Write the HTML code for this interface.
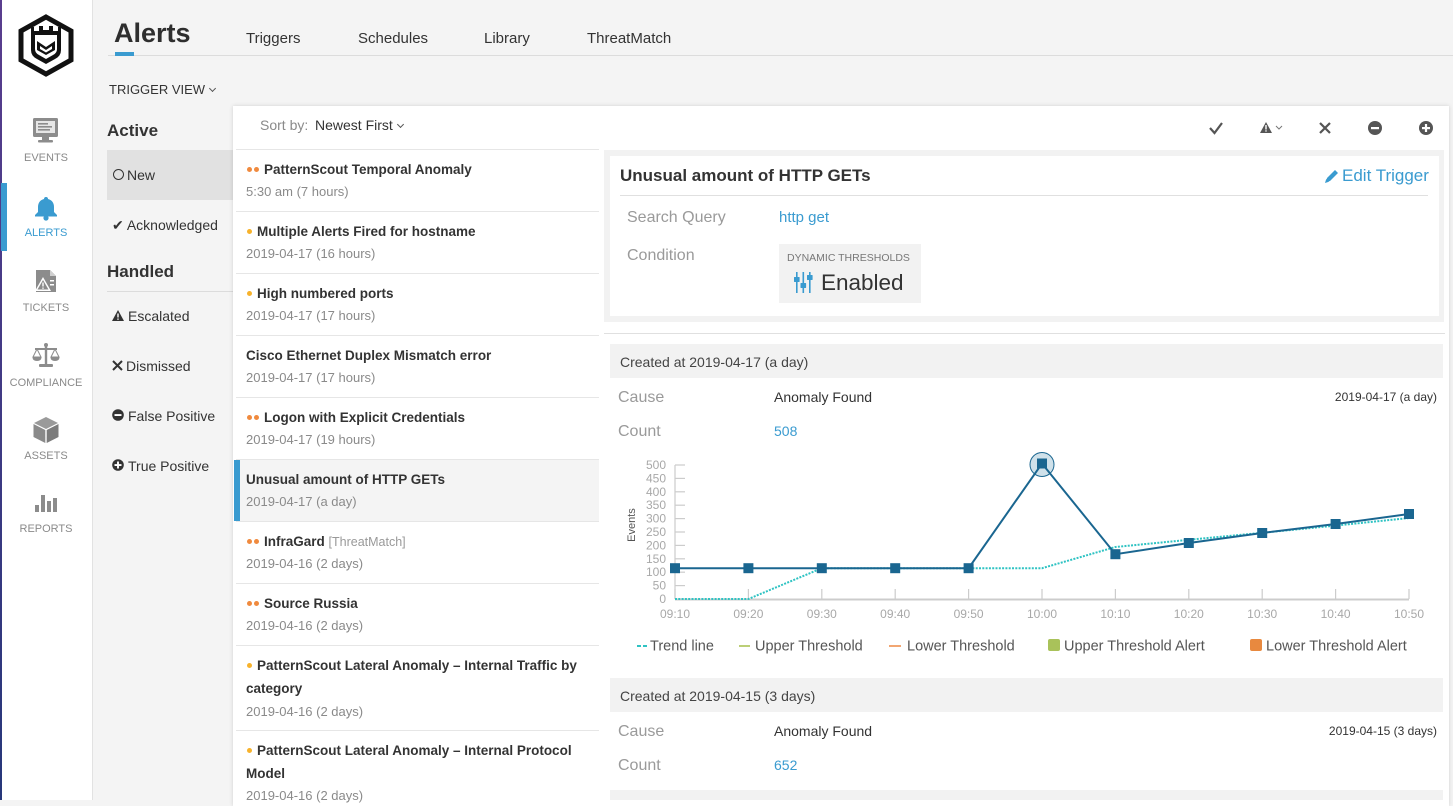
<!DOCTYPE html>
<html>
<head>
<meta charset="utf-8">
<style>
  html,body{margin:0;padding:0;}
  body{width:1453px;height:800px;overflow:hidden;position:relative;background:#f4f4f4;font-family:"Liberation Sans",Arial,sans-serif;color:#333;}
  .a{position:absolute;}
  .t{position:absolute;white-space:nowrap;height:20px;line-height:20px;}
  .chev{display:inline-block;width:4px;height:4px;border-right:1px solid #555;border-bottom:1px solid #555;transform:rotate(45deg);margin-left:5px;position:relative;top:-3px;}
  .nav{position:absolute;left:0;width:92px;text-align:center;font-size:11px;color:#8a8a8a;height:14px;line-height:14px;}
  .ttl{font-size:13.5px;font-weight:bold;color:#333;}
  .dt{font-size:13px;color:#8a8a8a;}
  .sep{position:absolute;left:236px;width:363px;height:1px;background:#e6e6e6;}
  .dot{position:absolute;width:5px;height:5px;border-radius:50%;}
  .o{background:#f08a3e;}
  .y{background:#f7b22c;}
  .lbl{font-size:16px;color:#9a9a9a;}
</style>
</head>
<body>

<!-- Sidebar -->
<div class="a" style="left:0;top:0;width:92px;height:800px;background:#fff;border-right:1px solid #e2e2e2;"></div>
<div class="a" style="left:0;top:0;width:2px;height:800px;background:linear-gradient(#5a3d8e,#27377a);"></div>
<div class="a" style="left:1px;top:183px;width:6px;height:68px;background:#3a9bd0;"></div>

<svg class="a" style="left:0;top:0;" width="92" height="560" viewBox="0 0 92 560">
  <!-- logo -->
  <polygon points="46,17 71,31 71,60 46,74 21,60 21,31" fill="none" stroke="#111" stroke-width="5" stroke-linejoin="miter"/>
  <path d="M31,27 L34,27 L34,31 L39,31 L39,26 L43,26 L43,30 L49,30 L49,26 L53,26 L53,31 L58,31 L58,27 L61,27 L61,50 Q61,56 55,59 L46,64 L37,59 Q31,56 31,50 Z" fill="#111"/>
  <path d="M35,35 L57,35 L57,49 Q57,53 53,55 L46,59 L39,55 Q35,53 35,49 Z" fill="#fff"/>
  <path d="M37,41 L46,47 L55,41 L55,50 L46,55 L37,50 Z" fill="#111"/>
  <path d="M40,46 L46,50 L52,46 L52,49 L46,52.5 L40,49 Z" fill="#fff"/>

  <!-- events monitor -->
  <rect x="33" y="118" width="25" height="19" rx="1.5" fill="#8c8c8c"/>
  <rect x="36" y="121" width="19" height="12" fill="#e6e6e6"/>
  <rect x="38" y="123" width="10" height="1.6" fill="#8c8c8c"/>
  <rect x="38" y="126" width="14" height="1.6" fill="#8c8c8c"/>
  <rect x="38" y="129" width="12" height="1.6" fill="#8c8c8c"/>
  <rect x="42" y="137" width="7" height="3" fill="#8c8c8c"/>
  <rect x="38" y="140" width="15" height="2.5" rx="1" fill="#8c8c8c"/>

  <!-- alerts bell -->
  <path d="M46,197 C44.5,197 44,198 44,199 C40,200 38,203 38,207 L38,212 L35,215 L35,216.5 L57,216.5 L57,215 L54,212 L54,207 C54,203 52,200 48,199 C48,198 47.5,197 46,197 Z" fill="#3a9bd0"/>
  <circle cx="46" cy="218" r="2.6" fill="#3a9bd0"/>

  <!-- tickets -->
  <path d="M36,270 L50,270 L56,276 L56,292 L36,292 Z" fill="#8c8c8c"/>
  <path d="M50,270 L50,276 L56,276 Z" fill="#d0d0d0"/>
  <polygon points="43,277 51,291 35,291" fill="#fff"/>
  <polygon points="43,280 48.5,289.5 37.5,289.5" fill="#8c8c8c"/>
  <rect x="42.3" y="282.5" width="1.4" height="4" fill="#fff"/>
  <rect x="42.3" y="287.5" width="1.4" height="1.3" fill="#fff"/>
  <rect x="50" y="280" width="4" height="1.5" fill="#fff"/>
  <rect x="50" y="284" width="4" height="1.5" fill="#fff"/>

  <!-- compliance scales -->
  <rect x="44.8" y="344" width="2.4" height="20" fill="#8c8c8c"/>
  <circle cx="46" cy="345" r="2" fill="#8c8c8c"/>
  <rect x="35" y="348" width="22" height="2" fill="#8c8c8c"/>
  <rect x="39" y="364" width="14" height="3" rx="1" fill="#8c8c8c"/>
  <path d="M33,357 L37,349 L41,357 Z" fill="none" stroke="#8c8c8c" stroke-width="1"/>
  <path d="M32.5,357 L41.5,357 Q41.5,361 37,361 Q32.5,361 32.5,357 Z" fill="#8c8c8c"/>
  <path d="M51,357 L55,349 L59,357 Z" fill="none" stroke="#8c8c8c" stroke-width="1"/>
  <path d="M50.5,357 L59.5,357 Q59.5,361 55,361 Q50.5,361 50.5,357 Z" fill="#8c8c8c"/>

  <!-- assets cube -->
  <polygon points="46,417 58,423 46,429 34,423" fill="#9a9a9a"/>
  <polygon points="33.5,424 45.3,430 45.3,443 33.5,437" fill="#8a8a8a"/>
  <polygon points="58.5,424 46.7,430 46.7,443 58.5,437" fill="#7c7c7c"/>

  <!-- reports -->
  <rect x="35" y="505" width="4" height="7" fill="#8c8c8c"/>
  <rect x="41" y="495" width="4" height="17" fill="#8c8c8c"/>
  <rect x="47" y="501" width="4" height="11" fill="#8c8c8c"/>
  <rect x="53" y="498" width="4" height="14" fill="#8c8c8c"/>
</svg>

<div class="nav" style="top:151px;">EVENTS</div>
<div class="nav" style="top:226px;color:#3a9bd0;">ALERTS</div>
<div class="nav" style="top:301px;">TICKETS</div>
<div class="nav" style="top:376px;">COMPLIANCE</div>
<div class="nav" style="top:449px;">ASSETS</div>
<div class="nav" style="top:522px;">REPORTS</div>

<!-- Header -->
<div class="t" style="left:114px;top:15px;height:36px;line-height:36px;font-size:27px;font-weight:bold;color:#2e2e2e;">Alerts</div>
<div class="a" style="left:108px;top:55px;width:1345px;height:1px;background:#dcdcdc;"></div>
<div class="a" style="left:115px;top:52px;width:19px;height:4px;background:#3a9bd0;"></div>
<div class="t" style="left:246px;top:29px;font-size:15px;">Triggers</div>
<div class="t" style="left:358px;top:29px;font-size:15px;">Schedules</div>
<div class="t" style="left:484px;top:29px;font-size:15px;">Library</div>
<div class="t" style="left:587px;top:29px;font-size:15px;">ThreatMatch</div>

<div class="t" style="left:109px;top:80px;font-size:13px;color:#333;">TRIGGER VIEW<span class="chev"></span></div>

<!-- Filter panel -->
<div class="t" style="left:107px;top:121px;font-size:17px;font-weight:bold;color:#333;">Active</div>
<div class="a" style="left:107px;top:150px;width:130px;height:50px;background:#e1e1e1;"></div>
<div class="a" style="left:113px;top:169px;width:9px;height:9px;border:1.3px solid #333;border-radius:50%;"></div>
<div class="t" style="left:127px;top:165px;font-size:14px;">New</div>
<div class="t" style="left:112px;top:215px;font-size:14px;">✔ Acknowledged</div>
<div class="t" style="left:107px;top:262px;font-size:17px;font-weight:bold;color:#333;">Handled</div>
<div class="a" style="left:107px;top:291px;width:126px;height:1px;background:#dcdcdc;"></div>
<svg class="a" style="left:112px;top:309px;" width="14" height="14"><polygon points="6,1 12,12 0,12" fill="#333"/><rect x="5.3" y="4.5" width="1.4" height="4" fill="#fff"/><rect x="5.3" y="9.5" width="1.4" height="1.3" fill="#fff"/></svg>
<div class="t" style="left:128px;top:306px;font-size:14px;">Escalated</div>
<svg class="a" style="left:112px;top:360px;" width="12" height="12"><path d="M1,1 L10,10 M10,1 L1,10" stroke="#333" stroke-width="2"/></svg>
<div class="t" style="left:126px;top:356px;font-size:14px;">Dismissed</div>
<svg class="a" style="left:112px;top:409px;" width="13" height="13"><circle cx="6" cy="6" r="5.8" fill="#333"/><rect x="2.5" y="5.1" width="7" height="1.9" fill="#fff"/></svg>
<div class="t" style="left:128px;top:406px;font-size:14px;">False Positive</div>
<svg class="a" style="left:112px;top:459px;" width="13" height="13"><circle cx="6" cy="6" r="5.8" fill="#333"/><rect x="2.5" y="5.1" width="7" height="1.9" fill="#fff"/><rect x="5.05" y="2.5" width="1.9" height="7" fill="#fff"/></svg>
<div class="t" style="left:128px;top:456px;font-size:14px;">True Positive</div>

<!-- Main white panel -->
<div class="a" style="left:233px;top:106px;width:1216px;height:700px;background:#fff;box-shadow:0 0 4px rgba(0,0,0,0.15);"></div>

<div class="t" style="left:260px;top:115px;font-size:14px;color:#8a8a8a;">Sort by:</div>
<div class="t" style="left:315px;top:115px;font-size:14px;color:#333;">Newest First<span class="chev"></span></div>

<!-- toolbar icons -->
<svg class="a" style="left:1200px;top:115px;" width="240" height="26">
  <path d="M10,13 L14.5,18 L22,8" fill="none" stroke="#555" stroke-width="2.2"/>
  <polygon points="66,7 72,18 60,18" fill="#555"/>
  <rect x="65.3" y="10" width="1.4" height="4.5" fill="#fff"/>
  <rect x="65.3" y="15.3" width="1.4" height="1.3" fill="#fff"/>
  <path d="M76,11 L79,14 L82,11" fill="none" stroke="#777" stroke-width="1"/>
  <path d="M120,8 L130,18 M130,8 L120,18" stroke="#555" stroke-width="2.2"/>
  <circle cx="175" cy="13" r="7" fill="#555"/>
  <rect x="171" y="12" width="8" height="2.2" fill="#fff"/>
  <circle cx="226" cy="13" r="7" fill="#555"/>
  <rect x="222" y="12" width="8" height="2.2" fill="#fff"/>
  <rect x="224.9" y="9" width="2.2" height="8" fill="#fff"/>
</svg>

<!-- List -->
<div class="sep" style="top:149px;"></div>

<div class="dot o" style="left:247px;top:167px;"></div><div class="dot o" style="left:254px;top:167px;"></div>
<div class="t ttl" style="left:264px;top:160px;">PatternScout Temporal Anomaly</div>
<div class="t dt" style="left:246px;top:182px;">5:30 am (7 hours)</div>
<div class="sep" style="top:211px;"></div>

<div class="dot y" style="left:247px;top:229px;"></div>
<div class="t ttl" style="left:257px;top:222px;">Multiple Alerts Fired for hostname</div>
<div class="t dt" style="left:246px;top:244px;">2019-04-17 (16 hours)</div>
<div class="sep" style="top:273px;"></div>

<div class="dot y" style="left:247px;top:291px;"></div>
<div class="t ttl" style="left:257px;top:284px;">High numbered ports</div>
<div class="t dt" style="left:246px;top:306px;">2019-04-17 (17 hours)</div>
<div class="sep" style="top:335px;"></div>

<div class="t ttl" style="left:246px;top:346px;">Cisco Ethernet Duplex Mismatch error</div>
<div class="t dt" style="left:246px;top:368px;">2019-04-17 (17 hours)</div>
<div class="sep" style="top:397px;"></div>

<div class="dot o" style="left:247px;top:415px;"></div><div class="dot o" style="left:254px;top:415px;"></div>
<div class="t ttl" style="left:264px;top:408px;">Logon with Explicit Credentials</div>
<div class="t dt" style="left:246px;top:430px;">2019-04-17 (19 hours)</div>
<div class="sep" style="top:459px;"></div>

<div class="a" style="left:236px;top:460px;width:363px;height:61px;background:#f4f4f4;"></div>
<div class="a" style="left:234px;top:460px;width:6px;height:61px;background:#3a9bd0;"></div>
<div class="t ttl" style="left:246px;top:470px;">Unusual amount of HTTP GETs</div>
<div class="t dt" style="left:246px;top:492px;">2019-04-17 (a day)</div>
<div class="sep" style="top:521px;"></div>

<div class="dot o" style="left:247px;top:539px;"></div><div class="dot o" style="left:254px;top:539px;"></div>
<div class="t ttl" style="left:264px;top:532px;">InfraGard <span style="font-weight:normal;color:#999;font-size:12.5px;">[ThreatMatch]</span></div>
<div class="t dt" style="left:246px;top:554px;">2019-04-16 (2 days)</div>
<div class="sep" style="top:583px;"></div>

<div class="dot o" style="left:247px;top:601px;"></div><div class="dot o" style="left:254px;top:601px;"></div>
<div class="t ttl" style="left:264px;top:594px;">Source Russia</div>
<div class="t dt" style="left:246px;top:616px;">2019-04-16 (2 days)</div>
<div class="sep" style="top:645px;"></div>

<div class="dot y" style="left:247px;top:663px;"></div>
<div class="t ttl" style="left:257px;top:656px;">PatternScout Lateral Anomaly – Internal Traffic by</div>
<div class="t ttl" style="left:246px;top:679px;">category</div>
<div class="t dt" style="left:246px;top:702px;">2019-04-16 (2 days)</div>
<div class="sep" style="top:730px;"></div>

<div class="dot y" style="left:247px;top:748px;"></div>
<div class="t ttl" style="left:257px;top:741px;">PatternScout Lateral Anomaly – Internal Protocol</div>
<div class="t ttl" style="left:246px;top:764px;">Model</div>
<div class="t dt" style="left:246px;top:786px;">2019-04-16 (2 days)</div>

<!-- Detail card -->
<div class="a" style="left:604px;top:150px;width:840px;height:172px;background:#f2f2f2;"></div>
<div class="a" style="left:610px;top:156px;width:829px;height:160px;background:#fff;"></div>
<div class="t" style="left:620px;top:166px;font-size:17px;font-weight:bold;color:#333;">Unusual amount of HTTP GETs</div>
<svg class="a" style="left:1323px;top:167px;" width="16" height="18"><path d="M3,15 L4,11 L12,3 L15,6 L7,14 Z" fill="#3a9bd0"/><path d="M2,16 L3.2,12 L6,14.8 Z" fill="#3a9bd0"/></svg>
<div class="t" style="left:1342px;top:166px;font-size:17px;color:#3a9bd0;">Edit Trigger</div>
<div class="a" style="left:620px;top:195px;width:808px;height:1px;background:#e0e0e0;"></div>
<div class="t lbl" style="left:627px;top:208px;">Search Query</div>
<div class="t" style="left:779px;top:208px;font-size:15px;color:#3a9bd0;">http get</div>
<div class="t lbl" style="left:627px;top:246px;">Condition</div>
<div class="a" style="left:779px;top:244px;width:142px;height:59px;background:#f2f2f2;"></div>
<div class="t" style="left:787px;top:248px;font-size:10.5px;color:#777;">DYNAMIC THRESHOLDS</div>
<svg class="a" style="left:794px;top:271px;" width="20" height="24">
  <rect x="2" y="1" width="1.6" height="21" fill="#3a9bd0"/><rect x="0" y="6" width="5.6" height="5" rx="0.5" fill="#3a9bd0"/>
  <rect x="8.5" y="1" width="1.6" height="21" fill="#3a9bd0"/><rect x="6.5" y="12" width="5.6" height="5" rx="0.5" fill="#3a9bd0"/>
  <rect x="15" y="1" width="1.6" height="21" fill="#3a9bd0"/><rect x="13" y="4" width="5.6" height="5" rx="0.5" fill="#3a9bd0"/>
</svg>
<div class="t" style="left:821px;top:270px;height:26px;line-height:26px;font-size:22.5px;color:#333;">Enabled</div>

<div class="a" style="left:604px;top:333px;width:841px;height:1px;background:#e0e0e0;"></div>

<!-- First occurrence -->
<div class="a" style="left:610px;top:344px;width:833px;height:34px;background:#f2f2f2;"></div>
<div class="t" style="left:620px;top:352px;font-size:14px;color:#444;">Created at 2019-04-17 (a day)</div>
<div class="t lbl" style="left:618px;top:388px;">Cause</div>
<div class="t" style="left:774px;top:387px;font-size:14px;color:#333;">Anomaly Found</div>
<div class="t" style="right:16px;top:387px;font-size:12px;color:#333;">2019-04-17 (a day)</div>
<div class="t lbl" style="left:618px;top:422px;">Count</div>
<div class="t" style="left:774px;top:421px;font-size:14px;color:#3a9bd0;">508</div>

<!-- Chart -->
<svg class="a" style="left:0;top:0;" width="1453" height="800" viewBox="0 0 1453 800">
  <g stroke="#cccccc" stroke-width="1.2">
    <line x1="675" y1="465" x2="675" y2="599"/>
    <line x1="675" y1="599" x2="685" y2="599"/>
    <line x1="675" y1="585.6" x2="685" y2="585.6"/>
    <line x1="675" y1="572.2" x2="685" y2="572.2"/>
    <line x1="675" y1="558.8" x2="685" y2="558.8"/>
    <line x1="675" y1="545.4" x2="685" y2="545.4"/>
    <line x1="675" y1="532" x2="685" y2="532"/>
    <line x1="675" y1="518.6" x2="685" y2="518.6"/>
    <line x1="675" y1="505.2" x2="685" y2="505.2"/>
    <line x1="675" y1="491.8" x2="685" y2="491.8"/>
    <line x1="675" y1="478.4" x2="685" y2="478.4"/>
    <line x1="675" y1="465" x2="685" y2="465"/>
    <line x1="675" y1="589" x2="675" y2="599"/>
    <line x1="748.4" y1="589" x2="748.4" y2="599"/>
    <line x1="821.8" y1="589" x2="821.8" y2="599"/>
    <line x1="895.2" y1="589" x2="895.2" y2="599"/>
    <line x1="968.6" y1="589" x2="968.6" y2="599"/>
    <line x1="1042" y1="589" x2="1042" y2="599"/>
    <line x1="1115.4" y1="589" x2="1115.4" y2="599"/>
    <line x1="1188.8" y1="589" x2="1188.8" y2="599"/>
    <line x1="1262.2" y1="589" x2="1262.2" y2="599"/>
    <line x1="1335.6" y1="589" x2="1335.6" y2="599"/>
    <line x1="1409" y1="589" x2="1409" y2="599"/>
  </g>
  <line x1="675" y1="599.5" x2="1409" y2="599.5" stroke="#cccccc" stroke-width="2"/>
  <g font-family="Liberation Sans, Arial, sans-serif" font-size="12" fill="#a8a8a8" text-anchor="end">
    <text x="666" y="603">0</text>
    <text x="666" y="589.6">50</text>
    <text x="666" y="576.2">100</text>
    <text x="666" y="562.8">150</text>
    <text x="666" y="549.4">200</text>
    <text x="666" y="536">250</text>
    <text x="666" y="522.6">300</text>
    <text x="666" y="509.2">350</text>
    <text x="666" y="495.8">400</text>
    <text x="666" y="482.4">450</text>
    <text x="666" y="469">500</text>
  </g>
  <g font-family="Liberation Sans, Arial, sans-serif" font-size="12" fill="#a8a8a8" text-anchor="middle">
    <text x="675" y="618">09:10</text>
    <text x="748.4" y="618">09:20</text>
    <text x="821.8" y="618">09:30</text>
    <text x="895.2" y="618">09:40</text>
    <text x="968.6" y="618">09:50</text>
    <text x="1042" y="618">10:00</text>
    <text x="1115.4" y="618">10:10</text>
    <text x="1188.8" y="618">10:20</text>
    <text x="1262.2" y="618">10:30</text>
    <text x="1335.6" y="618">10:40</text>
    <text x="1409" y="618">10:50</text>
  </g>
  <text x="635" y="525" transform="rotate(-90 635 525)" text-anchor="middle" font-family="Liberation Sans, Arial, sans-serif" font-size="11" fill="#555">Events</text>

  <polyline points="675,599 748.4,599 821.8,568.2 895.2,568.2 968.6,568.2 1042,568.2 1115.4,547 1188.8,539.8 1262.2,532.8 1335.6,525.6 1409,518" fill="none" stroke="#2fc3c3" stroke-width="2" stroke-dasharray="2,1.3"/>
  <circle cx="1042" cy="464.5" r="12" fill="#cfe1ea" stroke="#1a6690" stroke-width="1"/>
  <polyline points="675,568.2 748.4,568.2 821.8,568.2 895.2,568.2 968.6,568.2 1042,463.5 1115.4,554.2 1188.8,543 1262.2,533 1335.6,524 1409,514" fill="none" stroke="#1a6690" stroke-width="2"/>
  <g fill="#1a6690">
    <rect x="670" y="563.2" width="10" height="10"/>
    <rect x="743.4" y="563.2" width="10" height="10"/>
    <rect x="816.8" y="563.2" width="10" height="10"/>
    <rect x="890.2" y="563.2" width="10" height="10"/>
    <rect x="963.6" y="563.2" width="10" height="10"/>
    <rect x="1037" y="458.5" width="10" height="10"/>
    <rect x="1110.4" y="549.2" width="10" height="10"/>
    <rect x="1183.8" y="538" width="10" height="10"/>
    <rect x="1257.2" y="528" width="10" height="10"/>
    <rect x="1330.6" y="519" width="10" height="10"/>
    <rect x="1404" y="509" width="10" height="10"/>
  </g>

  <!-- legend -->
  <line x1="637" y1="646" x2="641" y2="646" stroke="#2fc3c3" stroke-width="2"/>
  <line x1="643" y1="646" x2="647" y2="646" stroke="#2fc3c3" stroke-width="2"/>
  <line x1="739" y1="646" x2="750" y2="646" stroke="#bccf77" stroke-width="2"/>
  <line x1="889" y1="646" x2="901" y2="646" stroke="#f2a672" stroke-width="2"/>
  <rect x="1048" y="639" width="12" height="12" rx="2" fill="#a9c25a"/>
  <rect x="1250" y="639" width="12" height="12" rx="2" fill="#e8893f"/>
  <g font-family="Liberation Sans, Arial, sans-serif" font-size="14.5" fill="#555">
    <text x="650" y="650.5">Trend line</text>
    <text x="755" y="650.5">Upper Threshold</text>
    <text x="907" y="650.5">Lower Threshold</text>
    <text x="1064" y="650.5">Upper Threshold Alert</text>
    <text x="1266" y="650.5">Lower Threshold Alert</text>
  </g>
</svg>

<!-- Second occurrence -->
<div class="a" style="left:610px;top:678px;width:833px;height:34px;background:#f2f2f2;"></div>
<div class="t" style="left:620px;top:686px;font-size:14px;color:#444;">Created at 2019-04-15 (3 days)</div>
<div class="t lbl" style="left:618px;top:722px;">Cause</div>
<div class="t" style="left:774px;top:721px;font-size:14px;color:#333;">Anomaly Found</div>
<div class="t" style="right:16px;top:721px;font-size:12px;color:#333;">2019-04-15 (3 days)</div>
<div class="t lbl" style="left:618px;top:756px;">Count</div>
<div class="t" style="left:774px;top:755px;font-size:14px;color:#3a9bd0;">652</div>
<div class="a" style="left:610px;top:790px;width:833px;height:10px;background:#f2f2f2;"></div>

</body>
</html>
